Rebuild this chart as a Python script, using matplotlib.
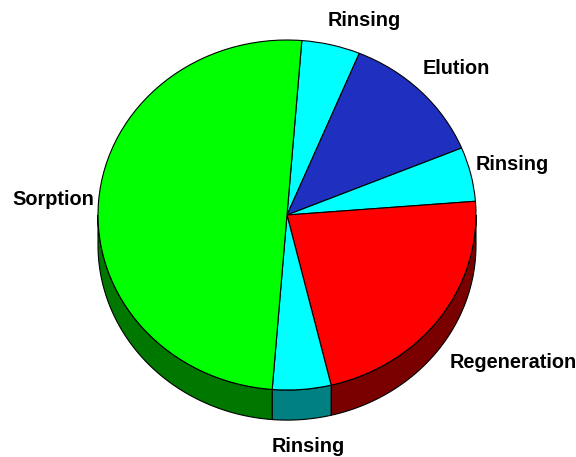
import numpy as np
import matplotlib
matplotlib.use("Agg")
import matplotlib.pyplot as plt
from matplotlib.patches import Polygon

# Cycle stages (hours) of the ion-exchange process
stages = ["Rinsing", "Elution", "Rinsing", "Regeneration", "Rinsing", "Sorption"]
hours = [2, 5, 2, 9, 2, 20]

top_colors = ["#00FFFF", "#1F2FBF", "#00FFFF", "#FF0000", "#00FFFF", "#00FF00"]
side_colors = ["#008080", "#101870", "#008080", "#7A0000", "#008080", "#007800"]

# label anchor points (data units, pie radius = 1)
label_pos = [(0.407, 1.114), (0.894, 0.840), (1.19, 0.291),
             (1.195, -0.840), (0.111, -1.320), (-1.238, 0.086)]

depth = 0.172

fig = plt.figure(figsize=(5.76, 4.57), dpi=100)
ax = fig.add_axes([0, 0, 1, 1])

wedges, _ = ax.pie(hours, colors=top_colors, startangle=85.5, counterclock=False,
                   radius=1, center=(0, 0),
                   wedgeprops=dict(edgecolor="black", linewidth=0.8), frame=False)
for w in wedges:
    w.set_zorder(3)

# visible side wall of each slice (lower half of the disc)
for w, sc in zip(wedges, side_colors):
    t1, t2 = sorted((w.theta1, w.theta2))
    for k in (-720, -360, 0, 360):
        a = max(t1 + k, 180.0)
        b = min(t2 + k, 360.0)
        if a < b:
            th = np.radians(np.linspace(a, b, 100))
            xs = np.cos(th)
            ys = np.sin(th)
            pts = np.concatenate([np.column_stack([xs, ys]),
                                  np.column_stack([xs[::-1], ys[::-1] - depth])])
            ax.add_patch(Polygon(pts, closed=True, facecolor=sc,
                                 edgecolor="black", linewidth=0.8, zorder=2))

for name, (lx, ly) in zip(stages, label_pos):
    ax.text(lx, ly, name, ha="center", va="center", fontsize=14.3,
            fontweight="bold", family="Liberation Sans", color="black")

ax.set_aspect("auto")
ax.set_xlim(-287 / 189, (576 - 287) / 189)
ax.set_ylim((215 - 457) / 175, 215 / 175)
ax.axis("off")

fig.savefig("out.png", dpi=100, facecolor="white")
